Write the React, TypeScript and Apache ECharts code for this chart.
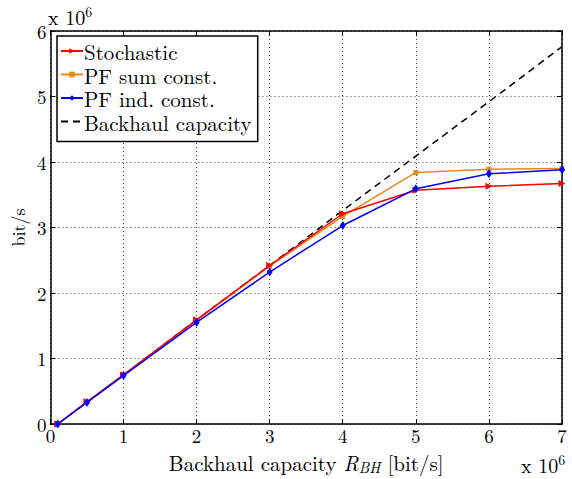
import React, { useEffect, useRef } from "react";
import * as echarts from "echarts";

const xValues = [0.1, 0.5, 1, 2, 3, 4, 5, 6, 7];
const stochastic = [0.0, 0.34, 0.75, 1.59, 2.42, 3.21, 3.57, 3.63, 3.67];
const pfSum = [0.0, 0.34, 0.75, 1.58, 2.41, 3.17, 3.84, 3.89, 3.9];
const pfInd = [0.0, 0.33, 0.74, 1.55, 2.32, 3.03, 3.59, 3.82, 3.88];
const backhaul = [0.0, 0.33, 0.75, 1.59, 2.42, 3.26, 4.09, 4.92, 5.76];
const xTicks = [0, 1, 2, 3, 4, 5, 6, 7];
const yTicks = [0, 1, 2, 3, 4, 5, 6];

const FONT = "Latin Modern Roman";

const pairs = (ys: number[]) => xValues.map((x, i) => [x, ys[i]]);

export default function App() {
  const ref = useRef<HTMLDivElement>(null);
  useEffect(() => {
    if (!ref.current) return;
    const chart = echarts.init(ref.current, undefined, { renderer: "svg" });
    const gridLine = { show: true, lineStyle: { color: "#444", type: [1, 3] as any, width: 1 } };
    const baseAxis = {
      axisLine: { show: true, onZero: false, lineStyle: { color: "#000", width: 1.5 } },
      axisTick: { show: true, inside: true, length: 5, lineStyle: { color: "#000" } },
    };
    const tenSix = {
      a: { fontFamily: FONT, fontSize: 20, color: "#000" },
      b: { fontFamily: FONT, fontSize: 14, color: "#000", verticalAlign: "top", padding: [0, 0, 10, 0] },
    };
    chart.setOption({
      animation: false,
      backgroundColor: "#fff",
      textStyle: { fontFamily: FONT },
      grid: { left: 49, right: 10, top: 31, bottom: 49, containLabel: false },
      xAxis: [
        {
          ...baseAxis,
          type: "value",
          min: xTicks[0],
          max: xTicks[xTicks.length - 1],
          interval: 1,
          position: "bottom",
          splitLine: gridLine,
          axisLabel: { color: "#000", fontFamily: FONT, fontSize: 19, margin: 2 },
          name: "{n|Backhaul capacity }{i|R}{s|BH}{n| [bit/s]}",
          nameLocation: "middle",
          nameGap: 25,
          nameTextStyle: {
            rich: {
              n: { fontFamily: FONT, fontSize: 21, color: "#000" },
              i: { fontFamily: FONT, fontSize: 21, fontStyle: "italic", color: "#000" },
              s: { fontFamily: FONT, fontSize: 15, fontStyle: "italic", color: "#000", verticalAlign: "bottom", padding: [10, 0, 0, 0] },
            },
          },
        },
        {
          ...baseAxis,
          type: "value",
          min: xTicks[0],
          max: xTicks[xTicks.length - 1],
          interval: 1,
          position: "top",
          splitLine: { show: false },
          axisLabel: { show: false },
        },
      ],
      yAxis: [
        {
          ...baseAxis,
          type: "value",
          min: yTicks[0],
          max: yTicks[yTicks.length - 1],
          interval: 1,
          position: "left",
          splitLine: gridLine,
          axisLabel: { color: "#000", fontFamily: FONT, fontSize: 19, margin: 4 },
          name: "bit/s",
          nameLocation: "middle",
          nameGap: 23,
          nameRotate: 90,
          nameTextStyle: { fontFamily: FONT, fontSize: 18, color: "#000" },
        },
        {
          ...baseAxis,
          type: "value",
          min: yTicks[0],
          max: yTicks[yTicks.length - 1],
          interval: 1,
          position: "right",
          splitLine: { show: false },
          axisLabel: { show: false },
        },
      ],
      legend: {
        left: 57,
        top: 36,
        orient: "vertical",
        backgroundColor: "#fff",
        borderColor: "#000",
        borderWidth: 1.5,
        borderRadius: 0,
        padding: [4, 6, 9, 3],
        itemGap: 1.5,
        itemWidth: 22,
        itemHeight: 7,
        textStyle: { fontFamily: FONT, fontSize: 21, lineHeight: 22, color: "#000", padding: [0, 0, 0, -4] },
        data: [
          "Stochastic",
          "PF sum const.",
          "PF ind. const.",
          { name: "Backhaul capacity", itemStyle: { opacity: 0 } },
        ],
      },
      series: [
        {
          name: "Stochastic",
          type: "line",
          data: pairs(stochastic),
          color: "#ff0000",
          lineStyle: { width: 1.5 },
          symbol: "triangle",
          symbolRotate: -90,
          symbolSize: 7,
          z: 4,
        },
        {
          name: "PF sum const.",
          type: "line",
          data: pairs(pfSum),
          color: "#e8891c",
          lineStyle: { width: 1.5 },
          symbol: "rect",
          symbolSize: 5,
          itemStyle: { color: "#e8891c" },
          z: 3,
        },
        {
          name: "PF ind. const.",
          type: "line",
          data: pairs(pfInd),
          color: "#0000ff",
          lineStyle: { width: 1.5 },
          symbol: "diamond",
          symbolSize: [6, 9],
          z: 5,
        },
        {
          name: "Backhaul capacity",
          type: "line",
          data: pairs(backhaul),
          color: "#000",
          lineStyle: { width: 1.5, type: [7, 5] as any },
          symbol: "none",
          z: 2,
        },
      ],
      graphic: [
        {
          type: "text",
          left: 48,
          top: 4,
          style: { text: "{a|x 10}{b|6}", rich: tenSix },
        },
        {
          type: "text",
          left: 521,
          top: 452,
          style: { text: "{a|x 10}{b|6}", rich: tenSix },
        },
      ],
    });
    return () => chart.dispose();
  }, []);
  return <div ref={ref} style={{ width: 572, height: 479, position: "absolute", left: 0, top: 0 }} />;
}
